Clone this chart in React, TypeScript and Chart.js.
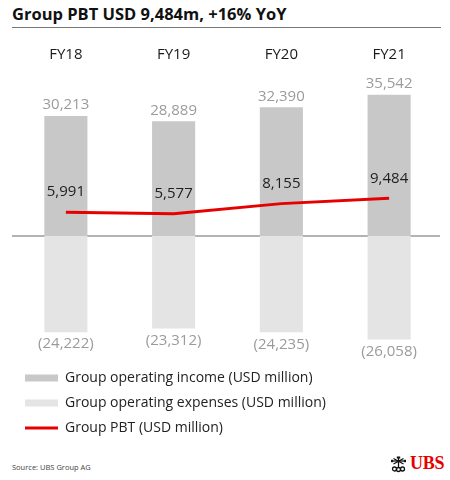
import { useEffect, useRef } from 'react'
import { Chart, registerables } from 'chart.js'
import type { Plugin } from 'chart.js'

Chart.register(...registerables)

const years = ['FY18', 'FY19', 'FY20', 'FY21']
const operatingIncome = [30213, 28889, 32390, 35542]
const operatingExpenses = [-24222, -23312, -24235, -26058]
const groupPbt = [5991, 5577, 8155, 9484]

const FONT = '"Open Sans", "Noto Sans", sans-serif'

const fmt = (v: number) => Math.abs(v).toLocaleString('en-US')

// value labels: income above bar, expenses below bar in brackets, PBT above the line
const valueLabels: Plugin = {
  id: 'valueLabels',
  afterDatasetsDraw(chart) {
    const { ctx } = chart
    ctx.save()
    ctx.font = `15px ${FONT}`
    ctx.textAlign = 'center'
    ctx.textBaseline = 'middle'
    chart.data.datasets.forEach((ds, i) => {
      const meta = chart.getDatasetMeta(i)
      meta.data.forEach((el, j) => {
        const v = ds.data[j] as number
        const { x, y } = el.getProps(['x', 'y'], true)
        if (i === 0) {
          ctx.fillStyle = '#9b9b9b'
          ctx.fillText(fmt(v), x, y - 11)
        } else if (i === 1) {
          ctx.fillStyle = '#9b9b9b'
          ctx.fillText(`(${fmt(v)})`, x, y + 12)
        } else {
          ctx.fillStyle = '#1e1e1e'
          ctx.fillText(fmt(v), x, y - 20)
        }
      })
    })
    ctx.restore()
  },
}

// zero baseline across the plot + nudge legend to its place
const zeroLine: Plugin = {
  id: 'zeroLine',
  afterLayout(chart) {
    if (chart.legend) chart.legend.left += 2
  },
  beforeDatasetsDraw(chart) {
    const { ctx, chartArea, scales } = chart
    const y = scales.y.getPixelForValue(0)
    ctx.save()
    ctx.strokeStyle = '#9a9a9a'
    ctx.lineWidth = 1.5
    ctx.beginPath()
    ctx.moveTo(chartArea.left, y)
    ctx.lineTo(chartArea.right - 3, y)
    ctx.stroke()
    ctx.restore()
  },
}

function KeysLogo() {
  return (
    <svg width="17" height="17" viewBox="0 0 17 17" style={{ display: 'block' }}>
      <g stroke="#111" strokeWidth="1.3" fill="none">
        <line x1="8.5" y1="1" x2="8.5" y2="11" />
        <line x1="2" y1="5" x2="15" y2="5" />
        <line x1="3.5" y1="2.5" x2="13.5" y2="8" />
        <line x1="13.5" y1="2.5" x2="3.5" y2="8" />
        <circle cx="4.5" cy="13" r="2" />
        <circle cx="8.5" cy="13.5" r="2" />
        <circle cx="12.5" cy="13" r="2" />
      </g>
      <g fill="#111">
        <rect x="6.8" y="0.5" width="3.4" height="2" />
        <rect x="1" y="3.8" width="2" height="2.4" />
        <rect x="14" y="3.8" width="2" height="2.4" />
      </g>
    </svg>
  )
}

export default function App() {
  const canvasRef = useRef<HTMLCanvasElement>(null)

  useEffect(() => {
    if (!canvasRef.current) return
    const chart = new Chart(canvasRef.current, {
      data: {
        labels: years,
        datasets: [
          {
            type: 'bar',
            label: 'Group operating income (USD million)',
            data: operatingIncome,
            backgroundColor: '#c8c8c8',
            borderWidth: 0,
            pointStyle: 'rect',
            barPercentage: 0.4,
            categoryPercentage: 1,
            order: 2,
          },
          {
            type: 'bar',
            label: 'Group operating expenses (USD million)',
            data: operatingExpenses,
            backgroundColor: '#e4e4e4',
            borderWidth: 0,
            pointStyle: 'rect',
            barPercentage: 0.4,
            categoryPercentage: 1,
            order: 1,
          },
          {
            type: 'line',
            label: 'Group PBT (USD million)',
            data: groupPbt,
            borderColor: '#e60000',
            backgroundColor: '#e60000',
            borderWidth: 3,
            pointRadius: 0,
            pointStyle: 'line',
            tension: 0,
            order: 0,
          },
        ],
      },
      options: {
        responsive: true,
        maintainAspectRatio: false,
        animation: false,
        layout: { padding: { top: 10, left: 12, right: 7, bottom: 0 } },
        plugins: {
          tooltip: { enabled: false },
          legend: {
            position: 'bottom',
            align: 'start',
            labels: {
              usePointStyle: true,
              pointStyleWidth: 33,
              boxHeight: 7,
              padding: 11,
              color: '#222',
              font: { family: FONT, size: 14 },
              sort: (a, b) => a.datasetIndex! - b.datasetIndex!,
            },
          },
        },
        scales: {
          x: {
            position: 'top',
            stacked: true,
            grid: { display: false, drawTicks: false },
            border: { display: false },
            ticks: { color: '#1a1a1a', padding: 6, font: { family: FONT, size: 15 } },
          },
          y: {
            display: false,
            min: -31220,
            max: 41800,
          },
        },
      },
      plugins: [valueLabels, zeroLine],
    })
    return () => chart.destroy()
  }, [])

  return (
    <div
      style={{
        position: 'fixed',
        left: 0,
        top: 0,
        width: 450,
        height: 480,
        background: '#fff',
        fontFamily: FONT,
        color: '#111',
      }}
    >
      <div
        style={{
          position: 'absolute',
          left: 12,
          top: 2,
          fontSize: 16.5,
          fontWeight: 700,
          whiteSpace: 'nowrap',
        }}
      >
        Group PBT USD 9,484m, +16% YoY
      </div>
      <div
        style={{
          position: 'absolute',
          left: 12,
          top: 27,
          width: 429,
          height: 0,
          borderTop: '1.5px solid #777',
        }}
      />
      <div style={{ position: 'absolute', left: 0, top: 30, width: 450, height: 415 }}>
        <canvas ref={canvasRef} aria-label="Group PBT chart" role="img" />
      </div>
      <div style={{ position: 'absolute', left: 12, top: 462, fontSize: 7.5, color: '#444' }}>
        Source: UBS Group AG
      </div>
      <div style={{ position: 'absolute', left: 390, top: 456 }}>
        <KeysLogo />
      </div>
      <div
        style={{
          position: 'absolute',
          left: 410,
          top: 453,
          fontFamily: '"Liberation Serif", serif',
          fontWeight: 700,
          fontSize: 18,
          color: '#e60000',
          letterSpacing: -0.3,
        }}
      >
        UBS
      </div>
    </div>
  )
}
